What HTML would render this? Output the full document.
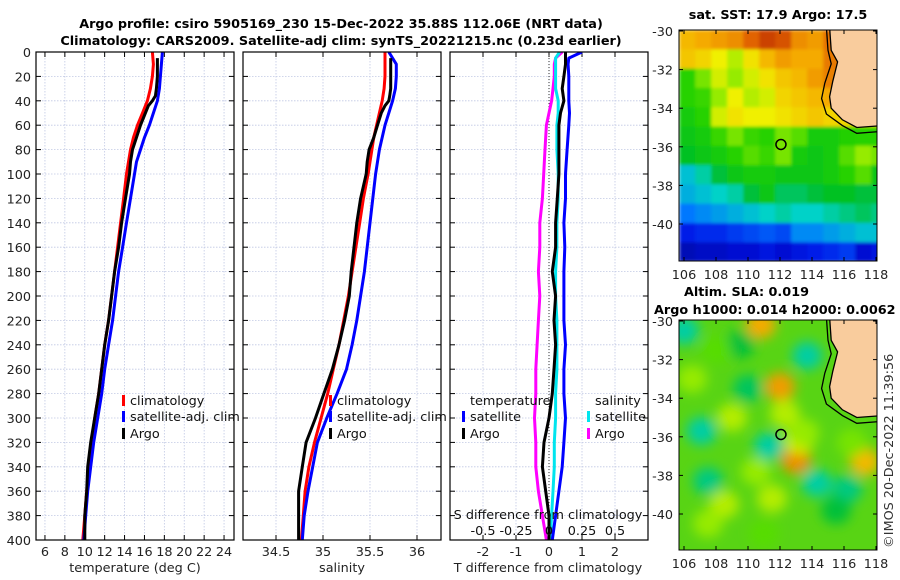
<!DOCTYPE html>
<html><head><meta charset="utf-8">
<style>
html,body{margin:0;padding:0;background:#fff;}
svg{display:block;font-family:"DejaVu Sans","Liberation Sans",sans-serif;}
</style></head>
<body>
<svg id="fig" width="900" height="580" viewBox="0 0 900 580" xmlns="http://www.w3.org/2000/svg">
<defs>
<filter id="blur4" x="-50%" y="-50%" width="200%" height="200%"><feGaussianBlur stdDeviation="6"/></filter>
<filter id="blur1" x="-5%" y="-5%" width="110%" height="110%"><feGaussianBlur stdDeviation="1.5"/></filter>
<clipPath id="clipMap1"><rect x="679" y="30" width="198" height="231"/></clipPath>
<clipPath id="clipMap2"><rect x="679" y="320" width="198" height="230"/></clipPath>
<clipPath id="clipP1"><rect x="36" y="52" width="198" height="488"/></clipPath>
<clipPath id="clipP2"><rect x="243" y="52" width="198" height="488"/></clipPath>
<clipPath id="clipP3"><rect x="450" y="52" width="198" height="488"/></clipPath>
</defs>
<g font-weight="bold" font-size="12.8" text-anchor="middle" fill="#000">
<text x="341" y="28">Argo profile: csiro 5905169_230 15-Dec-2022 35.88S 112.06E (NRT data)</text>
<text x="341" y="45">Climatology: CARS2009. Satellite-adj clim: synTS_20221215.nc (0.23d earlier)</text>
</g>
<g id="panels"></g>
<g id="maps"></g>
<text x="0" y="0" font-size="12.8" fill="#333" transform="translate(893,548) rotate(-90)">©IMOS 20-Dec-2022 11:39:56</text>
</svg>
<script>
// ---------- data ----------
const depthTicks=[0,20,40,60,80,100,120,140,160,180,200,220,240,260,280,300,320,340,360,380,400];
const tempTicks=[6,8,10,12,14,16,18,20,22,24];
const salTicks=[34.5,35,35.5,36];
const diffTTicks=[-2,-1,0,1,2];
const diffSTicks=[-0.5,-0.25,0,0.25,0.5];

const climDepth=[0,10,20,30,40,50,60,70,80,90,100,120,140,160,180,200,220,240,260,280,300,320,340,360,380,400];
const tempClim=[16.8,16.9,16.8,16.6,16.3,15.8,15.3,14.9,14.6,14.4,14.2,13.9,13.6,13.3,13.0,12.7,12.4,12.0,11.7,11.4,11.0,10.7,10.4,10.2,10.0,9.8];
const tempSat=[17.8,17.7,17.6,17.5,17.3,16.9,16.5,16.0,15.6,15.2,15.0,14.6,14.2,13.8,13.4,13.1,12.8,12.4,12.0,11.7,11.3,10.9,10.6,10.3,10.1,9.9];
const salClim=[35.66,35.66,35.66,35.65,35.63,35.60,35.57,35.54,35.52,35.50,35.48,35.43,35.39,35.35,35.31,35.27,35.22,35.17,35.11,35.05,34.98,34.91,34.85,34.81,34.79,34.77];
const salSat=[35.70,35.78,35.78,35.77,35.74,35.70,35.66,35.63,35.60,35.58,35.56,35.53,35.50,35.47,35.44,35.40,35.36,35.31,35.25,35.15,35.04,34.94,34.89,34.84,34.80,34.78];

const argoDepth=[5,10,20,30,36,40,44,50,60,70,80,90,100,110,120,140,160,180,200,220,240,260,280,300,320,340,360,380,400];
const tempArgo=[17.3,17.3,17.3,17.2,17.1,16.8,16.4,16.1,15.6,15.2,14.8,14.6,14.5,14.3,14.1,13.7,13.4,13.0,12.7,12.4,12.0,11.7,11.4,11.0,10.6,10.3,10.2,10.0,10.0];
const salArgo=[35.72,35.72,35.72,35.72,35.71,35.70,35.66,35.62,35.58,35.54,35.49,35.47,35.46,35.43,35.40,35.36,35.33,35.30,35.28,35.23,35.17,35.10,35.01,34.92,34.82,34.78,34.74,34.74,34.74];

const diffDepth=[0,5,10,20,30,40,50,60,80,100,120,140,160,180,200,220,240,260,280,300,320,340,360,380,400];
const dTempSat=[1.0,0.6,0.58,0.6,0.6,0.6,0.62,0.6,0.55,0.5,0.5,0.45,0.48,0.45,0.45,0.45,0.5,0.45,0.45,0.5,0.45,0.4,0.3,0.2,0.1];
const dTempArgo=[0.5,0.5,0.5,0.45,0.4,0.45,0.35,0.3,0.3,0.3,0.25,0.2,0.2,0.1,0.2,0.15,0.2,0.15,0.1,0.0,-0.15,-0.2,-0.1,0.0,0.0];
const dSalSat=[0.08,0.05,0.05,0.05,0.05,0.07,0.07,0.06,0.06,0.07,0.07,0.06,0.06,0.05,0.05,0.06,0.06,0.06,0.05,0.05,0.04,0.04,0.03,0.02,0.01];
const dSalArgo=[0.1,0.05,0.04,0.04,0.03,0.02,0.0,-0.02,-0.03,-0.04,-0.05,-0.07,-0.07,-0.08,-0.07,-0.08,-0.09,-0.1,-0.1,-0.11,-0.1,-0.1,-0.08,-0.05,-0.02];

const mapLonTicks=[106,108,110,112,114,116,118];
const mapLatTicks=[-30,-32,-34,-36,-38,-40];
const sstGrid=[
[.76,.78,.80,.82,.88,.92,.90,.82,.80,.86,.88,.85,.85],
[.74,.72,.68,.64,.70,.76,.80,.78,.78,.85,.88,.85,.85],
[.55,.60,.66,.62,.66,.70,.74,.76,.80,.84,.80,.80,.80],
[.55,.56,.62,.68,.64,.66,.72,.74,.76,.78,.74,.72,.70],
[.52,.55,.66,.70,.68,.68,.70,.72,.74,.72,.72,.70,.72],
[.50,.52,.56,.60,.56,.55,.60,.58,.52,.52,.54,.55,.55],
[.48,.50,.52,.55,.58,.56,.60,.52,.50,.52,.58,.62,.60],
[.36,.40,.46,.50,.52,.52,.50,.50,.50,.52,.55,.58,.50],
[.34,.36,.38,.40,.46,.50,.44,.44,.46,.48,.48,.46,.46],
[.28,.30,.32,.34,.36,.38,.40,.38,.38,.40,.42,.44,.42],
[.16,.18,.18,.20,.22,.24,.22,.30,.30,.32,.34,.36,.36],
[.08,.10,.10,.12,.12,.14,.12,.14,.16,.18,.20,.12,.14]];
const slaBlobLon=[110.8,112.0,113.0,117.3,106.0,107.1,111.3,107.5,110.0,113.7,114.3,116.2,109.5,113.2,115.5,108.5,111.5,106.5,109.0,112.3,110.5,107.5,113.5,116.5,108.0,111.0];
const slaBlobLat=[-30.2,-33.4,-37.2,-37.3,-30.5,-35.7,-36.5,-38.3,-33.5,-31.8,-38.4,-38.7,-31.2,-36.2,-39.8,-39.5,-39.2,-33.0,-35.0,-34.8,-37.8,-40.5,-35.8,-36.3,-31.5,-41.0];
const slaBlobVal=[0.78,0.80,0.82,0.76,0.40,0.40,0.40,0.42,0.44,0.40,0.40,0.42,0.46,0.66,0.46,0.64,0.64,0.62,0.64,0.64,0.62,0.62,0.62,0.60,0.58,0.58];
const argoLon=112.06, argoLat=-35.88;

// ---------- helpers ----------
const NS='http://www.w3.org/2000/svg';
function mk(tag,attrs,parent){const e=document.createElementNS(NS,tag);for(const k in attrs)e.setAttribute(k,attrs[k]);if(parent)parent.appendChild(e);return e;}
const Y0=52,Y1=540;
const yDepth=d=>Y0+(d/400)*(Y1-Y0);
const panels=document.getElementById('panels');
function lin(d0,d1,r0,r1){return v=>r0+(v-d0)/(d1-d0)*(r1-r0);}
const xTemp=lin(5.1,25.0,36,234);
const xSal=lin(34.5,36,276,417);
const xDT=lin(-3,3,450,648);
const xDS=v=>xDT(v*4);
const FS=12.8;

function panelFrame(x0,name,xt,xs,clip){
  const g=mk('g',{},panels);
  
  
  mk('rect',{x:x0,y:Y0,width:198,height:488,fill:'#fff'},g);
  depthTicks.forEach(d=>{
    const gl=mk('line',{x1:x0,x2:x0+198,y1:yDepth(d),y2:yDepth(d),stroke:'#c0c8e4','stroke-width':0.8,'stroke-dasharray':'1.5,1.5'},g);
    
    
    mk('line',{x1:x0,x2:x0+5,y1:yDepth(d),y2:yDepth(d),stroke:'#000'},g);
    mk('line',{x1:x0+193,x2:x0+198,y1:yDepth(d),y2:yDepth(d),stroke:'#000'},g);
  });
  xt.forEach(t=>{
    const x=xs(t);
    const gl=mk('line',{x1:x,x2:x,y1:Y0,y2:Y1,stroke:'#c0c8e4','stroke-width':0.8,'stroke-dasharray':'1.5,1.5'},g);
    
    
    mk('line',{x1:x,x2:x,y1:Y1,y2:Y1-5,stroke:'#000'},g);
    mk('line',{x1:x,x2:x,y1:Y0,y2:Y0+5,stroke:'#000'},g);
    const tl=mk('text',{x:x,y:556,'font-size':FS,'text-anchor':'middle',fill:'#222'},g);
    tl.textContent=t;
    
    
  });
  const gl=mk('g',{'clip-path':'url(#'+clip+')'},g);
  return {g,gl};
}
function frameBorder(g,x0){mk('rect',{x:x0,y:Y0,width:198,height:488,fill:'none',stroke:'#000','stroke-width':1.2},g);}
function line(parent,xs,vals,depths,color,name,w){
  const pts=vals.map((v,i)=>xs(v).toFixed(1)+','+yDepth(depths[i]).toFixed(1)).join(' ');
  const p=mk('polyline',{points:pts,fill:'none',stroke:color,'stroke-width':w||3,'stroke-linejoin':'round'},parent);
  
  
}
function legendEntry(parent,x,y,color,label){
  const g=mk('g',{},parent);
  
  
  mk('rect',{x:x,y:y-10,width:3,height:11,fill:color},g);
  const t=mk('text',{x:x+8,y:y,'font-size':FS,fill:'#111'},g);t.textContent=label;
}

depthTicks.forEach(d=>{
  const t=mk('text',{x:31,y:yDepth(d)+5,'font-size':FS,'text-anchor':'end',fill:'#222'},panels);
  t.textContent=d;
  
  
});

// panel 1
let P=panelFrame(36,'temperature-panel',tempTicks,xTemp,'clipP1');
line(P.gl,xTemp,tempClim,climDepth,'#ff0000','temp-climatology-line');
line(P.gl,xTemp,tempSat,climDepth,'#0000ff','temp-satellite-line');
line(P.gl,xTemp,tempArgo,argoDepth,'#000000','temp-argo-line');
frameBorder(P.g,36);
legendEntry(P.g,122,405,'#ff0000','climatology');
legendEntry(P.g,122,421,'#0000ff','satellite-adj. clim');
legendEntry(P.g,122,438,'#000000','Argo');
let xl=mk('text',{x:135,y:572,'font-size':FS,'text-anchor':'middle',fill:'#222'},panels);xl.textContent='temperature (deg C)';


// panel 2
P=panelFrame(243,'salinity-panel',salTicks,xSal,'clipP2');
line(P.gl,xSal,salClim,climDepth,'#ff0000','sal-climatology-line');
line(P.gl,xSal,salSat,climDepth,'#0000ff','sal-satellite-line');
line(P.gl,xSal,salArgo,argoDepth,'#000000','sal-argo-line');
frameBorder(P.g,243);
legendEntry(P.g,329,405,'#ff0000','climatology');
legendEntry(P.g,329,421,'#0000ff','satellite-adj. clim');
legendEntry(P.g,329,438,'#000000','Argo');
xl=mk('text',{x:342,y:572,'font-size':FS,'text-anchor':'middle',fill:'#222'},panels);xl.textContent='salinity';


// panel 3
P=panelFrame(450,'difference-panel',diffTTicks,xDT,'clipP3');
mk('line',{x1:xDT(0),x2:xDT(0),y1:Y0,y2:Y1,stroke:'#333','stroke-width':1,'stroke-dasharray':'1,2'},P.gl);
line(P.gl,xDS,dSalArgo,diffDepth,'#ff00ff','sal-argo-diff-line');
line(P.gl,xDS,dSalSat,diffDepth,'#00e5ee','sal-satellite-diff-line');
line(P.gl,xDT,dTempSat,diffDepth,'#0000ff','temp-satellite-diff-line');
line(P.gl,xDT,dTempArgo,diffDepth,'#000000','temp-argo-diff-line');
frameBorder(P.g,450);
let t=mk('text',{x:470,y:405,'font-size':FS,fill:'#111'},P.g);t.textContent='temperature';

t=mk('text',{x:595,y:405,'font-size':FS,fill:'#111'},P.g);t.textContent='salinity';

legendEntry(P.g,462,421,'#0000ff','satellite');
legendEntry(P.g,462,438,'#000000','Argo');
legendEntry(P.g,587,421,'#00e5ee','satellite');
legendEntry(P.g,587,438,'#ff00ff','Argo');
t=mk('text',{x:548,y:519,'font-size':FS,'text-anchor':'middle',fill:'#111'},P.g);t.textContent='S difference from climatology';

diffSTicks.forEach(s=>{
  const tt=mk('text',{x:xDS(s),y:535,'font-size':FS,'text-anchor':'middle',fill:'#111'},P.g);tt.textContent=s;
  
});
xl=mk('text',{x:548,y:572,'font-size':FS,'text-anchor':'middle',fill:'#222'},panels);xl.textContent='T difference from climatology';


// ---------- maps ----------
const maps=document.getElementById('maps');
const cstops=[[0,[0,0,130]],[0.15,[0,20,230]],[0.28,[0,120,255]],[0.38,[0,210,200]],[0.47,[0,190,40]],[0.55,[40,210,0]],[0.62,[150,235,0]],[0.68,[240,240,0]],[0.78,[245,170,0]],[0.88,[225,100,0]],[1,[160,0,0]]];
function cmap(v){for(let i=1;i<cstops.length;i++){if(v<=cstops[i][0]){const a=cstops[i-1],b=cstops[i],f=(v-a[0])/(b[0]-a[0]);return 'rgb('+a[1].map((c,j)=>Math.round(c+(b[1][j]-c)*f)).join(',')+')';}}return 'rgb(160,0,0)';}
const lonX=lin(106,118,684,876);
function mapAxes(g,top,latY,bottom){
  mk('rect',{x:679,y:top,width:198,height:bottom-top,fill:'none',stroke:'#000','stroke-width':1},g);
  mapLatTicks.forEach(la=>{
    const y=latY(la);
    mk('line',{x1:679,x2:683,y1:y,y2:y,stroke:'#000'},g);mk('line',{x1:873,x2:877,y1:y,y2:y,stroke:'#000'},g);
    const tt=mk('text',{x:673,y:y+5,'font-size':FS,'text-anchor':'end',fill:'#222'},g);tt.textContent=la;
    
  });
  mapLonTicks.forEach(lo=>{
    const x=lonX(lo);
    mk('line',{x1:x,x2:x,y1:bottom,y2:bottom-4,stroke:'#000'},g);mk('line',{x1:x,x2:x,y1:top,y2:top+4,stroke:'#000'},g);
    const tt=mk('text',{x:x,y:bottom+18,'font-size':FS,'text-anchor':'middle',fill:'#222'},g);tt.textContent=lo;
    
  });
}
function land(g,latY){
  const sh=[[114.9,-29.8],[115.0,-31.0],[115.2,-31.7],[114.8,-32.7],[114.6,-33.5],[114.9,-34.3],[115.9,-34.9],[116.8,-35.3],[118.4,-35.2]];
  mk('polyline',{points:sh.map(q=>lonX(q[0])+','+latY(q[1])).join(' '),fill:'none',stroke:'#000','stroke-width':1.3},g);
  const pts=[[115.1,-29.8],[115.2,-31.0],[115.6,-31.6],[115.3,-32.6],[115.1,-33.4],[115.2,-34.0],[115.9,-34.6],[116.8,-35.0],[118.4,-34.9],[118.4,-29.8]];
  const p=mk('polygon',{points:pts.map(q=>lonX(q[0])+','+latY(q[1])).join(' '),fill:'#f9cc9d',stroke:'#000','stroke-width':1.3},g);
  
}
// map 1: SST
const lat1=lin(-30,-40,31,224);
const m1=mk('g',{},maps);

const c1=mk('g',{'clip-path':'url(#clipMap1)'},m1);
const c1b=mk('g',{filter:'url(#blur1)'},c1);
sstGrid.forEach((row,r)=>row.forEach((v,c)=>{
  const x0=lonX(105.7+c),y0=lat1(-30+0.05-r);
  const cell=mk('rect',{x:x0.toFixed(1),y:y0.toFixed(1),width:16.3,height:19.7,fill:cmap(v)},c1b);
  
}));
land(c1,lat1);
let mk1=mk('circle',{cx:lonX(argoLon),cy:lat1(argoLat),r:5,fill:'none',stroke:'#000','stroke-width':1.5},m1);

mapAxes(m1,30,lat1,261);
t=mk('text',{x:778,y:19,'font-size':12.8,'font-weight':'bold','text-anchor':'middle',fill:'#000'},m1);t.textContent='sat. SST: 17.9 Argo: 17.5';

// map 2: SLA
const lat2=lin(-30,-40,321,514);
const m2=mk('g',{},maps);

const c2=mk('g',{'clip-path':'url(#clipMap2)'},m2);
mk('rect',{x:679,y:320,width:198,height:230,fill:'#58d414'},c2);
const bg=mk('g',{filter:'url(#blur4)'},c2);
slaBlobVal.forEach((v,i)=>{
  const b=mk('ellipse',{cx:lonX(slaBlobLon[i]),cy:lat2(slaBlobLat[i]),rx:15,ry:14,fill:cmap(v)},bg);
  
});
land(c2,lat2);
let mk2=mk('circle',{cx:lonX(argoLon),cy:lat2(argoLat),r:5,fill:'none',stroke:'#000','stroke-width':1.5},m2);

mapAxes(m2,320,lat2,550);
t=mk('text',{x:684,y:296,'font-size':12.8,'font-weight':'bold',fill:'#000'},m2);t.textContent='Altim. SLA: 0.019';

t=mk('text',{x:654,y:314,'font-size':12.8,'font-weight':'bold',fill:'#000'},m2);t.textContent='Argo h1000: 0.014 h2000: 0.0062';

</script>
</body></html>
